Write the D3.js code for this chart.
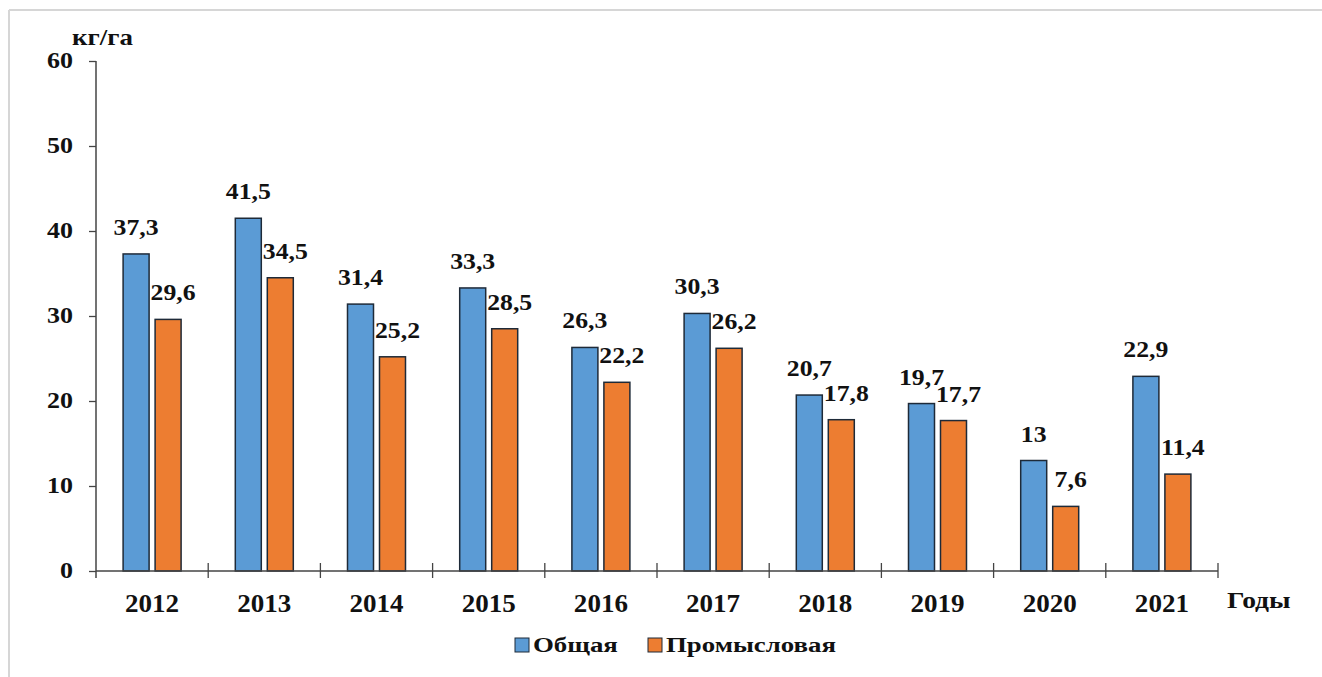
<!DOCTYPE html>
<html>
<head>
<meta charset="utf-8">
<script src="https://cdn.jsdelivr.net/npm/d3@7"></script>
<style>
  html, body { margin: 0; background: #fff; overflow: hidden; }
  svg { display: block; }
</style>
</head>
<body>
<svg id="chart"></svg>
<script>
// data
const years = ['2012', '2013', '2014', '2015', '2016', '2017', '2018', '2019', '2020', '2021'];
const obshaya = [37.3, 41.5, 31.4, 33.3, 26.3, 30.3, 20.7, 19.7, 13, 22.9];
const promyslovaya = [29.6, 34.5, 25.2, 28.5, 22.2, 26.2, 17.8, 17.7, 7.6, 11.4];
const seriesNames = ['Общая', 'Промысловая'];
const yTicks = [0, 10, 20, 30, 40, 50, 60];

(function() {
  const colors = { 'Общая': '#5b9bd5', 'Промысловая': '#ed7d31' };
  const serif = '"Liberation Serif", "Times New Roman", serif';

  // font goes inline on each text; the source image is a bit stretched sideways
  // so most labels get a small horizontal scale
  const textStyle = (sel, size) => sel
    .style('font-family', serif)
    .style('font-weight', 'bold')
    .style('font-size', size + 'px')
    .style('fill', '#111');

  const placeText = (sel, x, y, sx) => sel
    .attr('transform', (d, i) => {
      const px = typeof x === 'function' ? x(d, i) : x;
      const py = typeof y === 'function' ? y(d, i) : y;
      return `translate(${px},${py}) scale(${sx},1)`;
    });

  const width = 1322,
        height = 677;

  const svg = d3.select('#chart')
    .attr('width', width)
    .attr('height', height);

  // light frame top/left like the screenshot
  svg.append('line').attr('x1', 9).attr('x2', width).attr('y1', 10).attr('y2', 10)
    .attr('stroke', '#d6d6d6').attr('stroke-width', 2);
  svg.append('line').attr('x1', 9).attr('x2', 9).attr('y1', 10).attr('y2', height)
    .attr('stroke', '#d6d6d6').attr('stroke-width', 2);

  const plotLeft = 96, plotRight = 1218, plotTop = 61, plotBottom = 571;

  const x0 = d3.scaleBand().domain(years).range([plotLeft, plotRight]).padding(0);
  const x1 = d3.scaleBand().domain(seriesNames).range([0, x0.bandwidth()])
    .paddingInner(0.1875).paddingOuter(0.847);
  const y = d3.scaleLinear().domain([0, 60]).range([plotBottom, plotTop]);

  const rows = years.map((yr, i) => ({ year: yr, values: [
    { name: seriesNames[0], value: obshaya[i] },
    { name: seriesNames[1], value: promyslovaya[i] }
  ]}));

  // y axis
  const yAxis = svg.append('g')
    .attr('transform', `translate(${plotLeft},0)`)
    .call(d3.axisLeft(y).tickValues(yTicks).tickSize(7).tickPadding(16).tickSizeOuter(0));
  yAxis.select('.domain').remove();
  yAxis.selectAll('.tick line').attr('stroke', '#444').attr('stroke-width', 1.3);
  yAxis.selectAll('.tick text')
    .call(textStyle, 23)
    .attr('x', -23 / 1.13)
    .attr('dy', '0.28em')
    .attr('transform', 'scale(1.13,1)');
  svg.append('line').attr('x1', plotLeft).attr('x2', plotLeft).attr('y1', plotTop).attr('y2', plotBottom + 7)
    .attr('stroke', '#444').attr('stroke-width', 1.5);

  // bars
  const group = svg.selectAll('g.year')
    .data(rows)
    .enter().append('g')
      .attr('class', 'year')
      .attr('transform', d => `translate(${x0(d.year)},0)`);

  group.selectAll('rect')
    .data(d => d.values)
    .enter().append('rect')
      .attr('x', d => x1(d.name))
      .attr('y', d => y(d.value))
      .attr('width', x1.bandwidth())
      .attr('height', d => y(0) - y(d.value))
      .attr('fill', d => colors[d.name])
      .attr('stroke', '#1e2a38')
      .attr('stroke-width', 1.5);

  // orange labels sit a little right of their bar in the original
  const labelShift = { 'Общая': 0, 'Промысловая': 5 };
  group.selectAll('text.val')
    .data(d => d.values)
    .enter().append('text')
      .attr('class', 'val')
      .attr('text-anchor', 'middle')
      .call(textStyle, 23)
      .call(placeText, d => x1(d.name) + x1.bandwidth() / 2 + labelShift[d.name], d => y(d.value) - 19, 1.12)
      .text(d => String(d.value).replace('.', ','));

  // x axis line and category ticks
  svg.append('line').attr('x1', plotLeft).attr('x2', plotRight).attr('y1', plotBottom).attr('y2', plotBottom)
    .attr('stroke', '#444').attr('stroke-width', 1.5);
  const bounds = years.slice(1).map(d => x0(d)).concat([plotRight]);
  svg.selectAll('line.xtick')
    .data(bounds)
    .enter().append('line')
      .attr('class', 'xtick')
      .attr('x1', d => d).attr('x2', d => d)
      .attr('y1', plotBottom - 8).attr('y2', plotBottom + 7)
      .attr('stroke', '#444').attr('stroke-width', 1.3);

  svg.selectAll('text.yearlabel')
    .data(years)
    .enter().append('text')
      .attr('class', 'yearlabel')
      .attr('text-anchor', 'middle')
      .call(textStyle, 26)
      .call(placeText, d => x0(d) + x0.bandwidth() / 2, 612, 1.04)
      .text(d => d);

  // axis titles
  svg.append('text').call(textStyle, 23).call(placeText, 72, 45, 1.17).text('кг/га');
  svg.append('text').call(textStyle, 23).call(placeText, 1227, 608, 1.2).text('Годы');

  // legend
  const legendX = [515, 648];
  const legend = svg.selectAll('g.legend')
    .data(seriesNames)
    .enter().append('g')
      .attr('class', 'legend')
      .attr('transform', (d, i) => `translate(${legendX[i]},638)`);
  legend.append('rect')
    .attr('width', 14).attr('height', 14)
    .attr('fill', d => colors[d])
    .attr('stroke', '#1e2a38').attr('stroke-width', 1);
  legend.append('text')
    .call(textStyle, 22)
    .call(placeText, 18, 14, 1.22)
    .text(d => d);
})();
</script>
</body>
</html>
